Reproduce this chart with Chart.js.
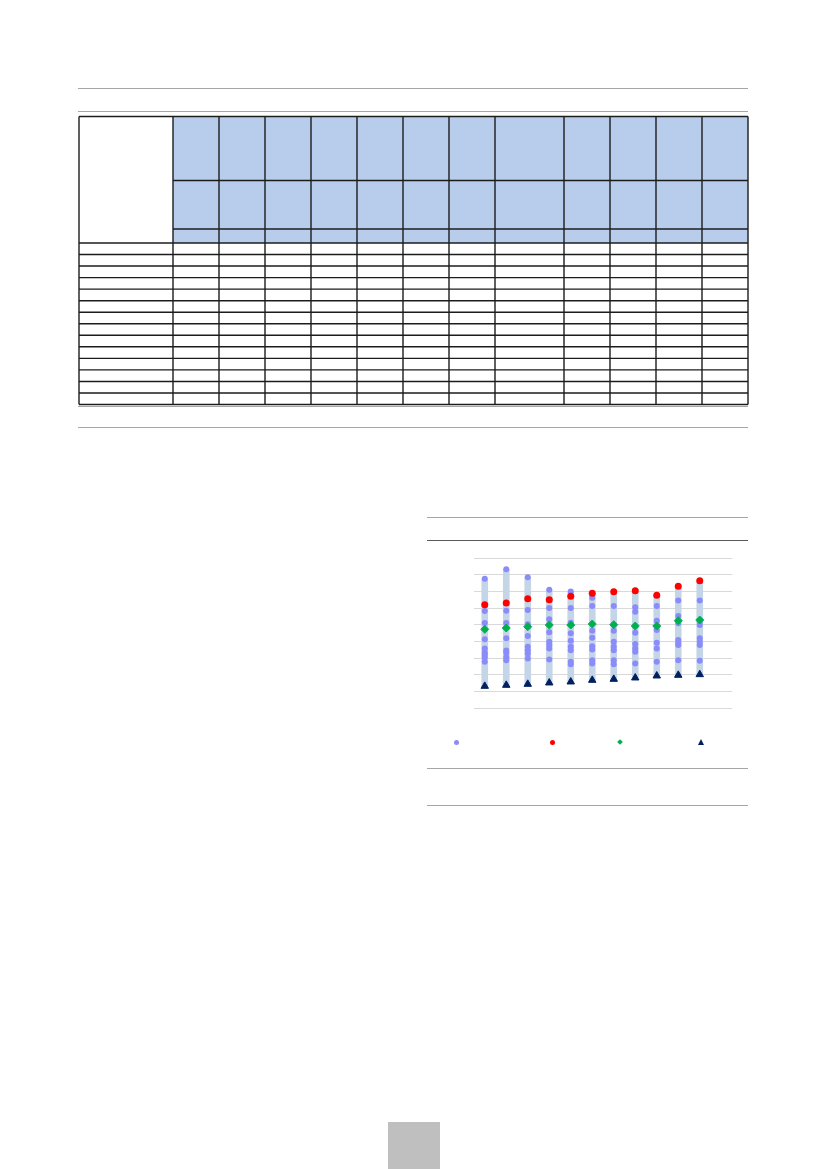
<!DOCTYPE html>
<html>
<head>
<meta charset="utf-8">
<script src="https://cdn.jsdelivr.net/npm/chart.js@4.4.1/dist/chart.umd.min.js"></script>
<style>
  html, body { margin: 0; padding: 0; background: #fff; }
  #page { position: relative; width: 827px; height: 1169px; overflow: hidden; font-family: "Liberation Sans", Arial, sans-serif; }
  #deco { position: absolute; left: 0; top: 0; }
  #chartWrap { position: absolute; left: 464px; top: 548px; width: 278px; height: 170px; }
  .leg { position: absolute; top: 742px; }
  .leg-dot { width: 5px; height: 5px; border-radius: 50%; margin: -2.5px 0 0 -2.5px; }
  .leg-dia { width: 4px; height: 4px; transform: rotate(45deg); margin: -2px 0 0 -2px; }
  .leg-tri { width: 0; height: 0; border-left: 3.5px solid transparent; border-right: 3.5px solid transparent; border-bottom: 6px solid #002060; margin: -3.5px 0 0 -3.5px; }
  #pageNo { position: absolute; left: 388px; top: 1122px; width: 52px; height: 47px; background: #bfbfbf; }
</style>
</head>
<body>
<div id="page">
  <canvas id="deco" width="827" height="1169"></canvas>
  <div id="chartWrap"><canvas id="chartRange"></canvas></div>
  <div class="leg leg-dot" style="left:456px;background:#8b8bfa"></div>
  <div class="leg leg-dot" style="left:552px;background:#ff0000"></div>
  <div class="leg leg-dia" style="left:620px;background:#00b050"></div>
  <div class="leg leg-tri" style="left:701px"></div>
  <div id="pageNo"></div>
</div>
<script>
// categories (12th slot is left empty in the original)
var categories = ['1', '2', '3', '4', '5', '6', '7', '8', '9', '10', '11', ''];

// spread of the individual members per category
var memberValues = [
  [7.75, 5.82, 5.10, 4.12, 3.57, 3.33, 3.20, 3.03, 2.77],
  [8.33, 5.84, 5.10, 4.18, 3.45, 3.31, 3.05, 2.87],
  [7.85, 5.88, 5.02, 4.32, 3.67, 3.47, 3.27, 2.97],
  [7.09, 6.00, 5.32, 4.54, 3.98, 3.78, 3.57, 2.91],
  [6.99, 6.00, 5.12, 4.48, 4.04, 3.67, 3.47, 2.77, 2.63],
  [6.61, 6.12, 4.64, 4.22, 3.71, 3.51, 2.87, 2.67],
  [6.12, 4.64, 3.98, 3.67, 3.47, 2.87, 2.63],
  [6.04, 5.78, 4.52, 3.84, 3.57, 3.37, 2.67],
  [6.12, 5.24, 4.68, 3.92, 3.57, 2.77],
  [6.45, 5.52, 5.08, 4.08, 3.92, 3.78, 2.87],
  [6.45, 5.18, 4.98, 4.18, 3.98, 3.78, 2.83]
];
var redValues   = [6.19, 6.30, 6.55, 6.49, 6.71, 6.89, 6.97, 7.03, 6.77, 7.31, 7.63];
var greenValues = [4.72, 4.80, 4.88, 4.98, 4.98, 5.04, 5.00, 4.92, 4.92, 5.24, 5.28];
var navyValues  = [1.31, 1.37, 1.43, 1.51, 1.57, 1.67, 1.73, 1.81, 1.93, 1.97, 2.01];
var rangeLow    = [1.31, 1.37, 1.43, 1.51, 1.57, 1.67, 1.73, 1.81, 1.93, 1.97, 2.01];
var rangeHigh   = [7.75, 8.33, 7.85, 7.09, 6.99, 6.89, 6.97, 7.03, 6.77, 7.31, 7.63];
var yTicks      = [0, 1, 2, 3, 4, 5, 6, 7, 8, 9];

// page decoration: rules and the (empty) table
function drawDeco() {
  var c = document.getElementById('deco');
  var ctx = c.getContext('2d');

  function hline(y, x0, x1, color, w) {
    ctx.strokeStyle = color; ctx.lineWidth = w || 1;
    ctx.beginPath(); ctx.moveTo(x0, y); ctx.lineTo(x1, y); ctx.stroke();
  }

  hline(88.5, 78, 748, '#a6a6a6');
  hline(111.5, 78, 748, '#a6a6a6');
  hline(406.5, 78, 748, '#a6a6a6');
  hline(427.5, 78, 748, '#a6a6a6');

  hline(517.5, 427, 748, '#a6a6a6');
  hline(540.5, 427, 748, '#595959');
  hline(768.5, 427, 748, '#a6a6a6');
  hline(805.5, 427, 748, '#a6a6a6');

  var cols = [79, 173, 219, 265, 311, 357, 403, 449, 495, 564, 610, 656, 702, 748];
  var top = 116.5, h1 = 180.5, h2 = 229, h3 = 243, bottom = 404.5;
  var nRows = 14;

  ctx.fillStyle = '#b8cdec';
  ctx.fillRect(cols[1], top, cols[cols.length - 1] - cols[1], h3 - top);

  ctx.strokeStyle = '#1c1c1c';
  ctx.lineWidth = 1.4;
  function seg(x0, y0, x1, y1) { ctx.beginPath(); ctx.moveTo(x0, y0); ctx.lineTo(x1, y1); ctx.stroke(); }

  cols.forEach(function(x) { seg(x, top, x, bottom); });
  seg(cols[0], top, cols[cols.length - 1], top);
  seg(cols[1], h1, cols[cols.length - 1], h1);
  seg(cols[1], h2, cols[cols.length - 1], h2);
  seg(cols[0], h3, cols[cols.length - 1], h3);
  var rh = (bottom - h3) / nRows;
  for (var i = 1; i <= nRows; i++) {
    var y = h3 + i * rh;
    seg(cols[0], y, cols[cols.length - 1], y);
  }
}

function pointsFrom(values) {
  return values.map(function(v, i) { return { x: categories[i], y: v }; });
}

function memberPoints() {
  var out = [];
  memberValues.forEach(function(list, i) {
    list.forEach(function(v) { out.push({ x: categories[i], y: v }); });
  });
  return out;
}

function renderChart() {
  var ranges = rangeLow.map(function(lo, i) { return [lo, rangeHigh[i]]; });

  new Chart(document.getElementById('chartRange'), {
    type: 'bar',
    data: {
      labels: categories,
      datasets: [
        { type: 'line', label: 'navy', data: pointsFrom(navyValues), showLine: false, pointStyle: 'triangle', pointRadius: 4.3, pointBackgroundColor: '#002060', pointBorderColor: '#002060', pointBorderWidth: 1, order: 0 },
        { type: 'line', label: 'red', data: pointsFrom(redValues), showLine: false, pointStyle: 'circle', pointRadius: 3.5, pointBackgroundColor: '#ff0000', pointBorderColor: '#ff0000', pointBorderWidth: 0, order: 1 },
        { type: 'line', label: 'green', data: pointsFrom(greenValues), showLine: false, pointStyle: 'rectRot', pointRadius: 4, pointBackgroundColor: '#00b050', pointBorderColor: '#00b050', pointBorderWidth: 1, order: 2 },
        { type: 'line', label: 'members', data: memberPoints(), showLine: false, pointStyle: 'circle', pointRadius: 3, pointBackgroundColor: '#8b8bfa', pointBorderColor: '#8b8bfa', pointBorderWidth: 0, order: 3 },
        { type: 'bar', label: 'range', data: ranges, backgroundColor: '#c5d5e8', barThickness: 6, borderWidth: 0, order: 4 }
      ]
    },
    options: {
      responsive: true, maintainAspectRatio: false, animation: false,
      layout: { padding: 10 },
      plugins: { legend: { display: false }, tooltip: { enabled: false } },
      scales: {
        x: { grid: { display: false, drawTicks: false }, ticks: { display: false, padding: 0 }, border: { display: false } },
        y: {
          min: yTicks[0], max: yTicks[yTicks.length - 1],
          afterBuildTicks: function(axis) { axis.ticks = yTicks.map(function(v) { return { value: v }; }); },
          grid: { color: '#d9d9d9', lineWidth: 1, drawTicks: false },
          ticks: { display: false, padding: 0 },
          border: { display: false }
        }
      }
    }
  });
}

drawDeco();
renderChart();
</script>
</body>
</html>
